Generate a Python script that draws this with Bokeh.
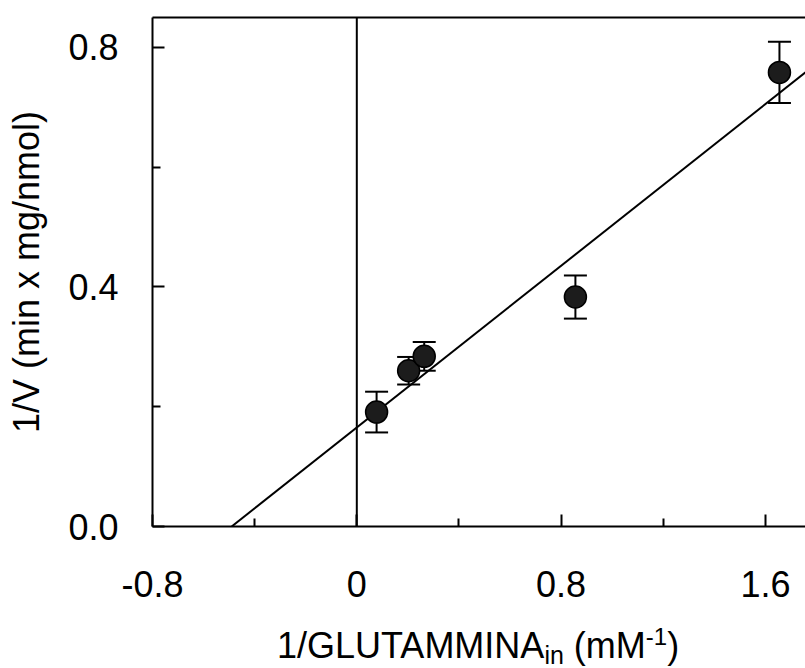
from bokeh.plotting import figure
from bokeh.models import (Range1d, FixedTicker, LinearAxis, Span, Whisker, Div,
                          TeeHead, ColumnDataSource, CustomJSTickFormatter)
from bokeh.layouts import column
from bokeh.embed import file_html
from bokeh.resources import INLINE

# ---- data ----
inv_s = [0.0775, 0.203, 0.264, 0.856, 1.655]      # 1/[GLUTAMMINA] (mM^-1)
inv_v = [0.191, 0.260, 0.284, 0.383, 0.758]       # 1/V
err = [0.034, 0.023, 0.024, 0.036, 0.051]         # error bars
fit_x = [-0.49, 1.757]                            # regression line ends
fit_y = [0.0, 0.758]

x_ticks = [-0.8, 0.0, 0.8, 1.6]
x_minor = [-0.4, 0.4, 1.2]
y_ticks = [0.0, 0.4, 0.8]
y_minor = [0.2, 0.6]

y_title = "1/V (min x mg/nmol)"
x_title_main = "1/GLUTAMMINA"
x_title_sub = "in"
x_title_unit = " (mM"
x_title_sup = "-1"
x_title_close = ")"

# ---- layout ----
W, H = 805, 668
PH = 626                     # plot height; the rest is the x title row
L, R, T, B = 152, 0, 17, PH - 526
X0, X1 = -0.8, 1.757
Y0, Y1 = 0.0, 0.8496
FONT = "Liberation Sans"

p = figure(width=W, height=PH, x_range=Range1d(X0, X1), y_range=Range1d(Y0, Y1),
           output_backend="svg", toolbar_location=None,
           min_border_left=L, min_border_right=R, min_border_top=T, min_border_bottom=B,
           x_axis_type=None, y_axis_type=None)
p.outline_line_color = None
p.background_fill_color = "white"
p.border_fill_color = "white"

def style_axis(ax):
    ax.axis_line_width = 2
    ax.axis_line_color = "black"
    ax.major_tick_in = 12
    ax.major_tick_out = 0
    ax.minor_tick_in = 8
    ax.minor_tick_out = 0
    ax.major_tick_line_width = 2
    ax.minor_tick_line_width = 2
    ax.major_tick_line_color = "black"
    ax.minor_tick_line_color = "black"
    ax.major_label_text_font = FONT
    ax.major_label_text_font_size = "36px"
    ax.major_label_text_color = "black"
    ax.axis_label_text_font = FONT
    ax.axis_label_text_font_size = "36px"
    ax.axis_label_text_font_style = "normal"
    ax.axis_label_text_color = "black"

xaxis = LinearAxis(ticker=FixedTicker(ticks=x_ticks, minor_ticks=x_minor),
                   formatter=CustomJSTickFormatter(code="return Math.abs(tick) < 1e-9 ? '0' : tick.toFixed(1);"))
style_axis(xaxis)
xaxis.major_label_standoff = 44
p.add_layout(xaxis, "below")

yaxis = LinearAxis(ticker=FixedTicker(ticks=y_ticks, minor_ticks=y_minor),
                   formatter=CustomJSTickFormatter(code="return tick.toFixed(1);"),
                   axis_label=y_title)
style_axis(yaxis)
yaxis.major_label_standoff = 34
yaxis.axis_label_standoff = 18
p.add_layout(yaxis, "left")

top = LinearAxis(ticker=FixedTicker(ticks=[]), major_label_text_font_size="0px",
                 major_tick_in=0, major_tick_out=0, minor_tick_in=0, minor_tick_out=0,
                 axis_line_width=2, axis_line_color="black")
p.add_layout(top, "above")

# vertical line at x = 0
p.add_layout(Span(location=0, dimension="height", line_color="black", line_width=2))

# regression line
p.line(fit_x, fit_y, line_color="black", line_width=2)

# error bars
src = ColumnDataSource(dict(x=inv_s, y=inv_v,
                            lo=[v - e for v, e in zip(inv_v, err)],
                            hi=[v + e for v, e in zip(inv_v, err)]))
wh = Whisker(source=src, base="x", lower="lo", upper="hi", line_color="black", line_width=2,
             upper_head=TeeHead(size=23, line_width=2, line_color="black"),
             lower_head=TeeHead(size=23, line_width=2, line_color="black"))
p.add_layout(wh)

# points
p.scatter("x", "y", source=src, size=22, fill_color="#1c1c1c", line_color="black", line_width=1.5)

# x axis title with subscript / superscript, as real text
title_html = (
    f'<div style="font-family:\'{FONT}\',Arial,sans-serif;font-size:36px;line-height:36px;'
    f'color:black;white-space:pre;padding-left:277px;padding-top:2px;">'
    f'{x_title_main}'
    f'<span style="font-size:25px;position:relative;top:6px;">{x_title_sub}</span>'
    f'{x_title_unit}'
    f'<span style="font-size:24px;position:relative;top:-13px;">{x_title_sup}</span>'
    f'{x_title_close}</div>'
)
div = Div(text=title_html, width=W, height=H - PH, margin=0)

layout = column(p, div, spacing=0, margin=0)
open("out.html", "w").write(file_html(layout, INLINE))
